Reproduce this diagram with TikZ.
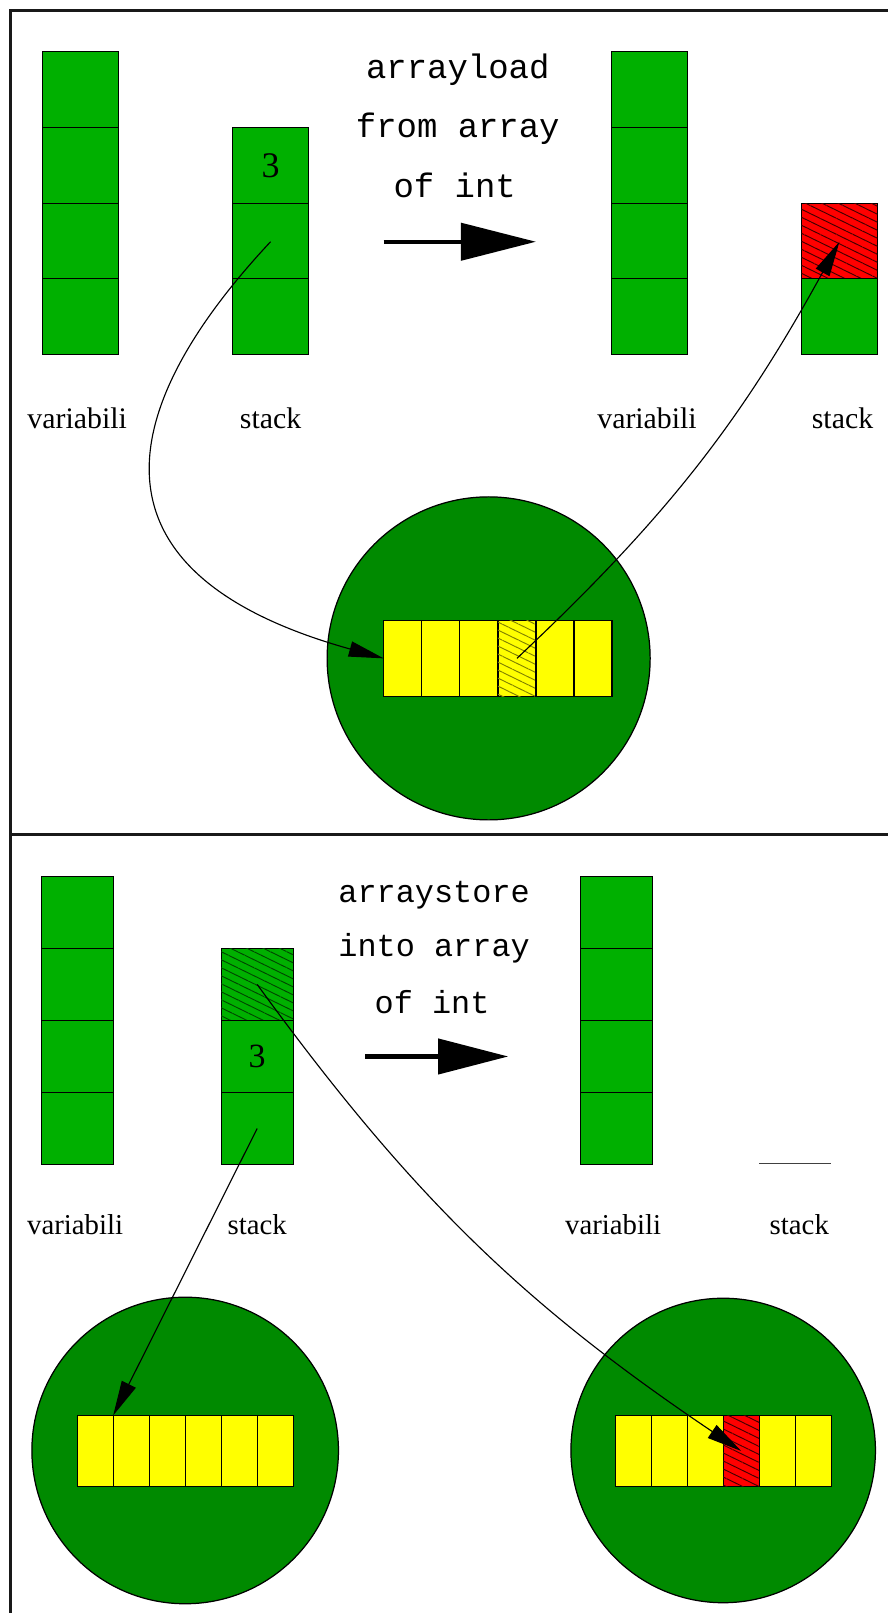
\documentclass[tikz,border=0pt]{standalone}
\usepackage{fontspec}
\setmainfont{Liberation Serif}
\setmonofont{Liberation Mono}
\usetikzlibrary{arrows.meta,patterns.meta}
\definecolor{cellgreen}{RGB}{0,176,0}
\definecolor{circgreen}{RGB}{0,138,0}
\definecolor{hyellow}{RGB}{255,255,0}
\definecolor{hred}{RGB}{255,0,0}
\tikzset{
  cellA/.style={draw, line width=0.8pt, fill=cellgreen, minimum width=74pt, minimum height=74pt, inner sep=0pt, outer sep=0pt},
  cellB/.style={draw, line width=0.8pt, fill=cellgreen, minimum width=70pt, minimum height=70pt, inner sep=0pt, outer sep=0pt},
  arrA/.style={draw, line width=1.2pt, fill=hyellow, minimum width=37pt, minimum height=74pt, inner sep=0pt, outer sep=0pt},
  arrB/.style={draw, line width=1.2pt, fill=hyellow, minimum width=35pt, minimum height=69pt, inner sep=0pt, outer sep=0pt},
  hatchred/.style={fill=hred, postaction={pattern={Lines[angle=-26,distance=7pt,line width=0.9pt]}, pattern color=black!75!red}},
  hatchyel/.style={fill=hyellow, postaction={pattern={Lines[angle=-26,distance=7pt,line width=0.9pt]}, pattern color=black!50!yellow}},
  hatchgrn/.style={fill=cellgreen, postaction={pattern={Lines[angle=-26,distance=7pt,line width=0.9pt]}, pattern color=black!60!cellgreen}},
  circ/.style={circle, draw, line width=1.2pt, fill=circgreen, inner sep=0pt},
  lblA/.style={font=\fontsize{29}{29}\selectfont},
  lblB/.style={font=\fontsize{28}{28}\selectfont},
  digA/.style={font=\fontsize{35}{35}\selectfont},
  digB/.style={font=\fontsize{33}{33}\selectfont},
  monoA/.style={font=\fontsize{33}{33}\selectfont\ttfamily},
  monoB/.style={font=\fontsize{31}{31}\selectfont\ttfamily},
  conn/.style={line width=1.1pt, -{Triangle[length=34pt,width=15pt]}},
  bigarrA/.style={line width=4pt, -{Triangle[length=73pt,width=36pt]}},
  bigarrB/.style={line width=4pt, -{Triangle[length=68pt,width=34pt]}},
  frame/.style={line width=2.4pt, draw=black!90}
}
\begin{document}
\begin{tikzpicture}[x=1pt,y=-1pt]
\useasboundingbox (0,0) rectangle (863,1568);
\clip (0,0) rectangle (863,1568);
\fill[white] (0,0) rectangle (863,1568);
% frame
\draw[frame] (880,10) -- (10,10) -- (10,1580);
\draw[frame] (10,811) -- (880,811);

% ===== top panel =====
\node[cellA] (tv1) at (78,87) {};
\node[cellA] (tv2) at (78,161) {};
\node[cellA] (tv3) at (78,235) {};
\node[cellA] (tv4) at (78,308) {};
\node[cellA,digA] (ts1) at (263,161) {3};
\node[cellA] (ts2) at (263,235) {};
\node[cellA] (ts3) at (263,308) {};
\node[cellA] (rv1) at (631.5,87) {};
\node[cellA] (rv2) at (631.5,161) {};
\node[cellA] (rv3) at (631.5,235) {};
\node[cellA] (rv4) at (631.5,308) {};
\node[cellA,hatchred] (rs1) at (816,235) {};
\node[cellA] (rs2) at (816,308) {};

\node[lblA] (lv1) at (75,407) {variabili};
\node[lblA] (ls1) at (263,407) {stack};
\node[lblA] (lv2) at (629,407) {variabili};
\node[lblA] (ls2) at (819,407) {stack};

\node[monoA] (t1) at (445,68) {arrayload};
\node[monoA] (t2) at (445,125) {from array};
\node[monoA] (t3) at (442,180) {of int};
\coordinate (ba1) at (373,235);
\coordinate (ba2) at (521,235);
\draw[bigarrA] (ba1) -- (ba2);

\node[circ, minimum size=314pt] (c1) at (475,640) {};
\node[arrA] (a1) at (391.5,640) {};
\node[arrA] (a2) at (428.5,640) {};
\node[arrA] (a3) at (465.5,640) {};
\node[arrA,hatchyel] (a4) at (502.5,640) {};
\node[arrA] (a5) at (539.5,640) {};
\node[arrA] (a6) at (576.5,640) {};

\draw[conn] (ts2.center) .. controls (118,390) and (68,555) .. (a1.west);
\draw[conn] (a4.center) to[bend right=9] (rs1.center);

% ===== bottom panel =====
\node[cellB] (bv1) at (75,887) {};
\node[cellB] (bv2) at (75,957) {};
\node[cellB] (bv3) at (75,1027) {};
\node[cellB] (bv4) at (75,1097) {};
\node[cellB,hatchgrn] (bs1) at (250,957) {};
\node[cellB,digB] (bs2) at (250,1027) {3};
\node[cellB] (bs3) at (250,1097) {};
\node[cellB] (bw1) at (599,887) {};
\node[cellB] (bw2) at (599,957) {};
\node[cellB] (bw3) at (599,1027) {};
\node[cellB] (bw4) at (599,1097) {};
\coordinate (es1) at (738,1131);
\coordinate (es2) at (808,1131);
\draw[line width=0.8pt, black!75] (es1) -- (es2);

\node[lblB] (blv1) at (73,1190) {variabili};
\node[lblB] (bls1) at (250,1190) {stack};
\node[lblB] (blv2) at (596,1190) {variabili};
\node[lblB] (bls2) at (777,1190) {stack};

\node[monoB] (u1) at (422,870) {arraystore};
\node[monoB] (u2) at (422,922) {into array};
\node[monoB] (u3) at (420,974) {of int};
\coordinate (bb1) at (355,1027);
\coordinate (bb2) at (494,1027);
\draw[bigarrB] (bb1) -- (bb2);

\node[circ, minimum size=298pt] (c2) at (180,1410) {};
\node[arrB] (b1) at (92.5,1410.5) {};
\node[arrB] (b2) at (127.5,1410.5) {};
\node[arrB] (b3) at (162.5,1410.5) {};
\node[arrB] (b4) at (197.5,1410.5) {};
\node[arrB] (b5) at (232.5,1410.5) {};
\node[arrB] (b6) at (267.5,1410.5) {};

\node[circ, minimum size=296pt] (c3) at (703,1410) {};
\node[arrB] (r1) at (615.5,1410.5) {};
\node[arrB] (r2) at (650.5,1410.5) {};
\node[arrB] (r3) at (685.5,1410.5) {};
\node[arrB,hatchred] (r4) at (720.5,1410.5) {};
\node[arrB] (r5) at (755.5,1410.5) {};
\node[arrB] (r6) at (790.5,1410.5) {};

\draw[conn] (bs3.center) -- (b1.north east);
\draw[conn] (bs1.center) to[bend right=10] (r4.center);
\end{tikzpicture}
\end{document}
